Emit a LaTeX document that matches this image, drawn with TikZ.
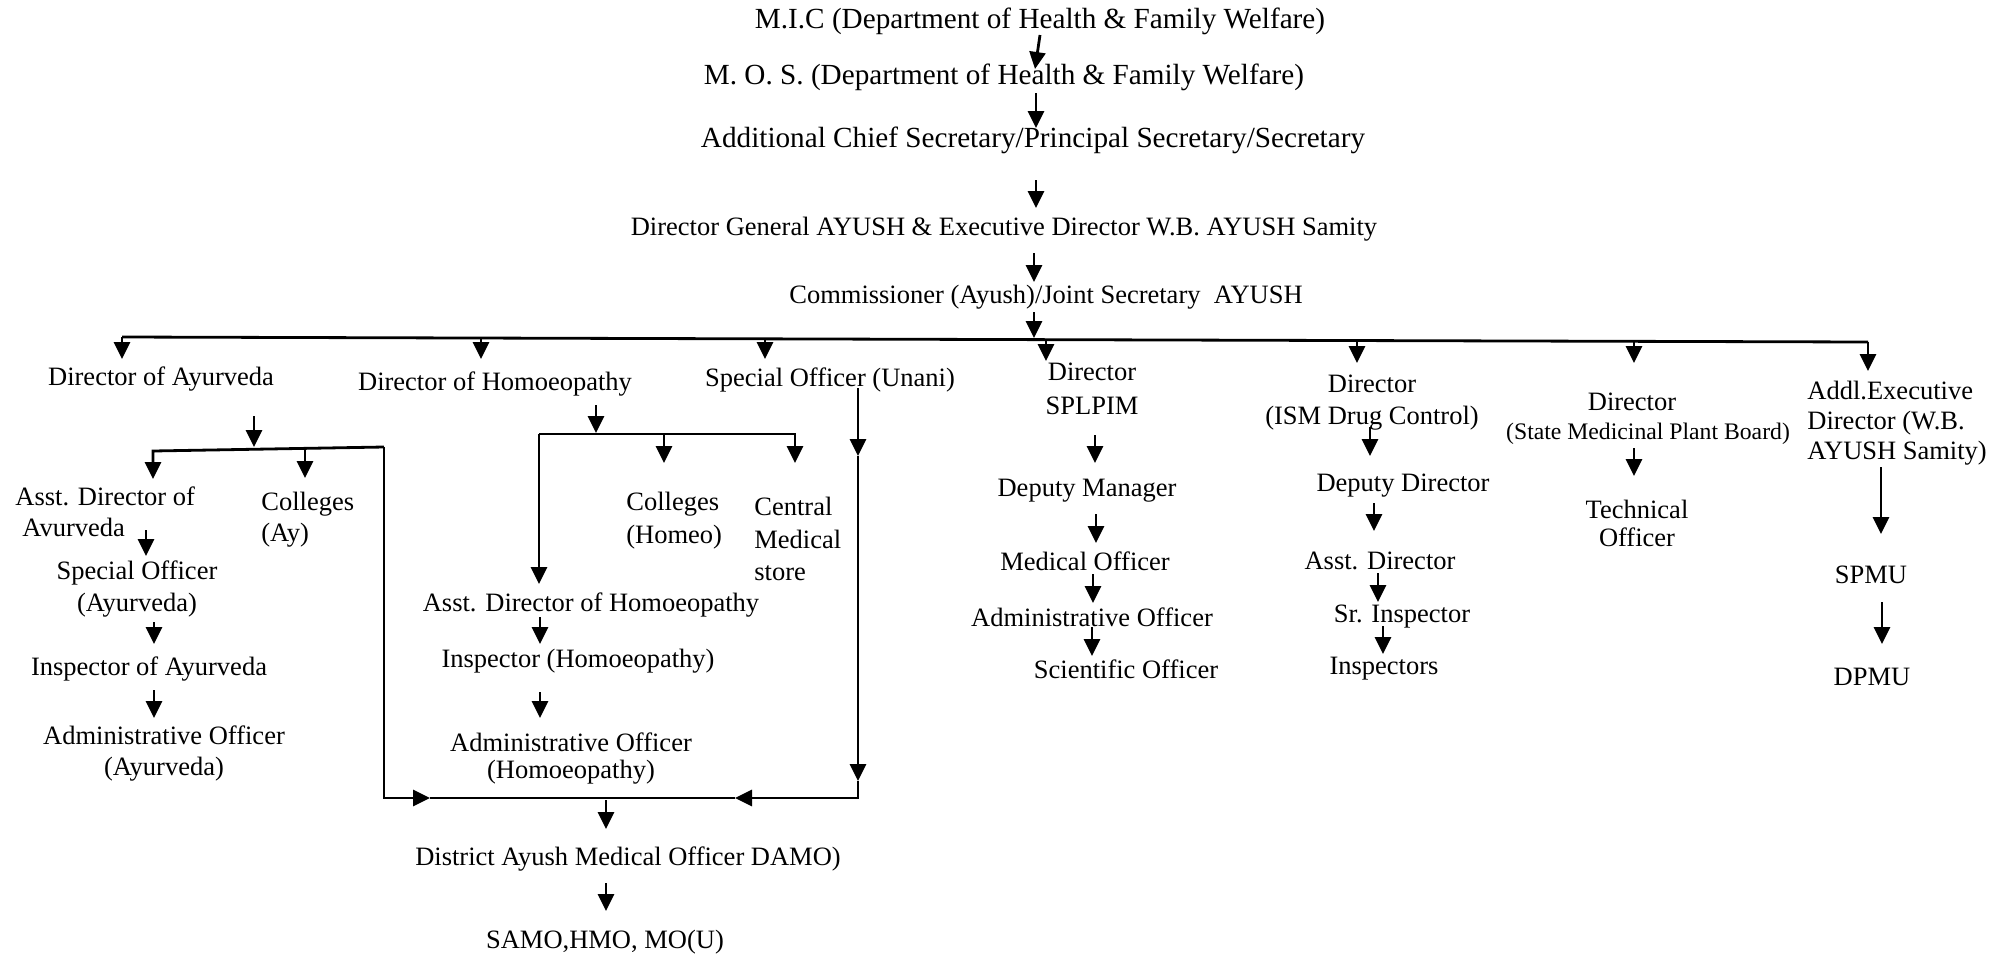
\documentclass[tikz,border=0pt]{standalone}
\usepackage{fontspec}
\setmainfont{Liberation Serif}
\usetikzlibrary{arrows.meta}
\newcommand\fbig{\fontsize{14.6pt}{17pt}\selectfont}
\newcommand\freg{\fontsize{13.25pt}{15.5pt}\selectfont}
\newcommand\fsml{\fontsize{11.85pt}{14pt}\selectfont}
\begin{document}
\begin{tikzpicture}[x=0.5pt,y=-0.5pt,
  lbl/.style={inner sep=0pt, font=\freg, align=center, yshift=-1pt},
  lblL/.style={inner sep=0pt, font=\freg, align=left, anchor=west, yshift=-1pt},
  topl/.style={inner sep=0pt, font=\fbig, yshift=-0.5pt},
  conn/.style={line width=1.4pt},
  arr/.style={conn, -{Triangle[length=8.5pt,width=8pt]}},
]
\useasboundingbox (0,0) rectangle (2008,954);
\fill[white] (0,0) rectangle (2008,954);

% top chain
\node[topl] (mic) at (1040,20) {M.I.C (Department of Health \& Family Welfare)};
\node[topl] (mos) at (1004,76) {M. O. S. (Department of Health \& Family Welfare)};
\node[topl] (acs) at (1033,139) {Additional Chief Secretary/Principal Secretary/Secretary};
\node[lbl] (dg) at (1004,227) {Director General AYUSH \& Executive Director W.B. AYUSH Samity};
\node[lbl] (com) at (1046,295) {Commissioner (Ayush)/Joint Secretary\ \ AYUSH};

\draw[arr] (1040,35) coordinate (t1a) -- (1035,69) coordinate (t1b);
\draw[arr] (1036,93) coordinate (t2a) -- (1036,128) coordinate (t2b);
\draw[arr] (1036,180) coordinate (t3a) -- (1036,208) coordinate (t3b);
\draw[arr] (1034,253) coordinate (t4a) -- (1034,282) coordinate (t4b);
\draw[arr] (1034,312) coordinate (t5a) -- (1034,338) coordinate (t5b);

% bus
\draw[conn] (122,337) coordinate (busL) -- (1868,342) coordinate (busR);
\draw[arr] (122,337) coordinate (b1) -- (122,359);
\draw[arr] (481,338) coordinate (b2) -- (481,359);
\draw[arr] (765,339) coordinate (b3) -- (765,359);
\draw[arr] (1046,340) coordinate (b4) -- (1046,361);
\draw[arr] (1357,341) coordinate (b5) -- (1357,363);
\draw[arr] (1634,341) coordinate (b6) -- (1634,363);
\draw[arr] (busR) -- (1868,371);

% level 2
\node[lbl] (ay) at (161,377) {Director of Ayurveda};
\node[lbl] (ho) at (495,382) {Director of Homoeopathy};
\node[lbl] (un) at (830,378) {Special Officer (Unani)};
\node[lbl, font=\fontsize{13.25pt}{17pt}\selectfont] (sp) at (1092,387) {Director\\SPLPIM};
\node[lbl, font=\fontsize{13.25pt}{16pt}\selectfont] (ism) at (1372,401) {Director\\(ISM Drug Control)};
\node[lbl] (pbd) at (1632,400) {Director};
\node[lbl, font=\fsml] (pbs) at (1648,432) {(State Medicinal Plant Board)};
\node[lblL, font=\fontsize{13.25pt}{14.9pt}\selectfont] (ad) at (1807,421) {Addl.Executive\\Director (W.B.\\AYUSH Samity)};

% Ayurveda subtree
\draw[arr] (254,416) coordinate (ayA) -- (254,447) coordinate (ayB);
\draw[arr] (384,447) coordinate (ayBrR) -- (153,451) -- (153,479) coordinate (ayL);
\draw[arr] (305,449) coordinate (ayC1) -- (305,478) coordinate (ayC2);
\draw[arr] (ayBrR) -- (384,798) coordinate (botL) -- (430,798) coordinate (botLa);
\node[lblL] (ayad) at (15,510) {Asst. Director of\\\hspace*{3.5pt}Avurveda};
\node[lblL] (ayco) at (261,518) {Colleges\\(Ay)};
\draw[arr] (146,530) -- (146,556);
\node[lbl, font=\fontsize{13.25pt}{16pt}\selectfont] (aysp) at (137,587) {Special Officer\\(Ayurveda)};
\draw[arr] (154,622) -- (154,644);
\node[lbl] (ayin) at (149,667) {Inspector of Ayurveda};
\draw[arr] (154,690) -- (154,718);
\node[lbl] (ayao) at (164,752) {Administrative Officer\\(Ayurveda)};

% Homoeopathy subtree
\draw[arr] (596,405) coordinate (hoA) -- (596,433) coordinate (hoB);
\draw[arr] (539,434) coordinate (hoBrL) -- (795,434) -- (795,463) coordinate (hoR);
\draw[arr] (664,434) coordinate (hoM1) -- (664,463) coordinate (hoM2);
\draw[arr] (hoBrL) -- (539,584) coordinate (hoL);
\node[lblL, font=\fontsize{13.25pt}{16.5pt}\selectfont] (hoco) at (626,519) {Colleges\\(Homeo)};
\node[lblL, font=\fontsize{13.25pt}{16.25pt}\selectfont] (hocm) at (754,537) {Central\\Medical\\store};
\node[lbl] (hoad) at (591,603) {Asst. Director of Homoeopathy};
\draw[arr] (540,617) -- (540,644);
\node[lbl] (hoin) at (578,659) {Inspector (Homoeopathy)};
\draw[arr] (540,692) -- (540,718);
\node[lbl, font=\fontsize{13.25pt}{13.5pt}\selectfont] (hoao) at (571,757) {Administrative Officer\\(Homoeopathy)};

% Unani line and DAMO
\draw[arr] (858,388) coordinate (unTop) -- (858,456) coordinate (un1);
\draw[arr] (un1) -- (858,781) coordinate (un2);
\draw[arr] (un2) -- (858,798) coordinate (botR) -- (735,798) coordinate (botRa);
\draw[conn] (botRa) -- (botLa);
\draw[arr] (606,800) coordinate (dmA) -- (606,829) coordinate (dmB);
\node[lbl] (damo) at (628,857) {District Ayush Medical Officer DAMO)};
\draw[arr] (606,883) -- (606,911);
\node[lbl] (samo) at (605,940) {SAMO,HMO, MO(U)};

% SPLPIM column
\draw[arr] (1095,435) -- (1095,463);
\node[lbl] (spdm) at (1087,489) {Deputy Manager};
\draw[arr] (1096,514) -- (1096,543);
\node[lbl] (spmo) at (1085,559) {Medical Officer};
\draw[arr] (1093,574) -- (1093,603);
\node[lbl] (spao) at (1092,615) {Administrative Officer};
\draw[arr] (1092,627) -- (1092,656);
\node[lbl] (spso) at (1126,667) {Scientific Officer};

% ISM column
\draw[arr] (1370,427) -- (1370,456);
\node[lbl] (isdd) at (1403,484) {Deputy Director};
\draw[arr] (1374,503) -- (1374,531);
\node[lbl] (isad) at (1380,559) {Asst. Director};
\draw[arr] (1378,573) -- (1378,602);
\node[lbl] (issi) at (1402,615) {Sr. Inspector};
\draw[arr] (1383,626) -- (1383,654);
\node[lbl] (isin) at (1384,667) {Inspectors};

% Plant board
\draw[arr] (1634,448) -- (1634,476);
\node[lbl, font=\fontsize{13.25pt}{14pt}\selectfont] (pbt) at (1637,521) {Technical\\Officer};

% Addl
\draw[arr] (1881,467) -- (1881,534);
\node[lbl] (spmu) at (1871,573) {SPMU};
\draw[arr] (1882,602) -- (1882,644);
\node[lbl] (dpmu) at (1872,675) {DPMU};
\end{tikzpicture}
\end{document}
